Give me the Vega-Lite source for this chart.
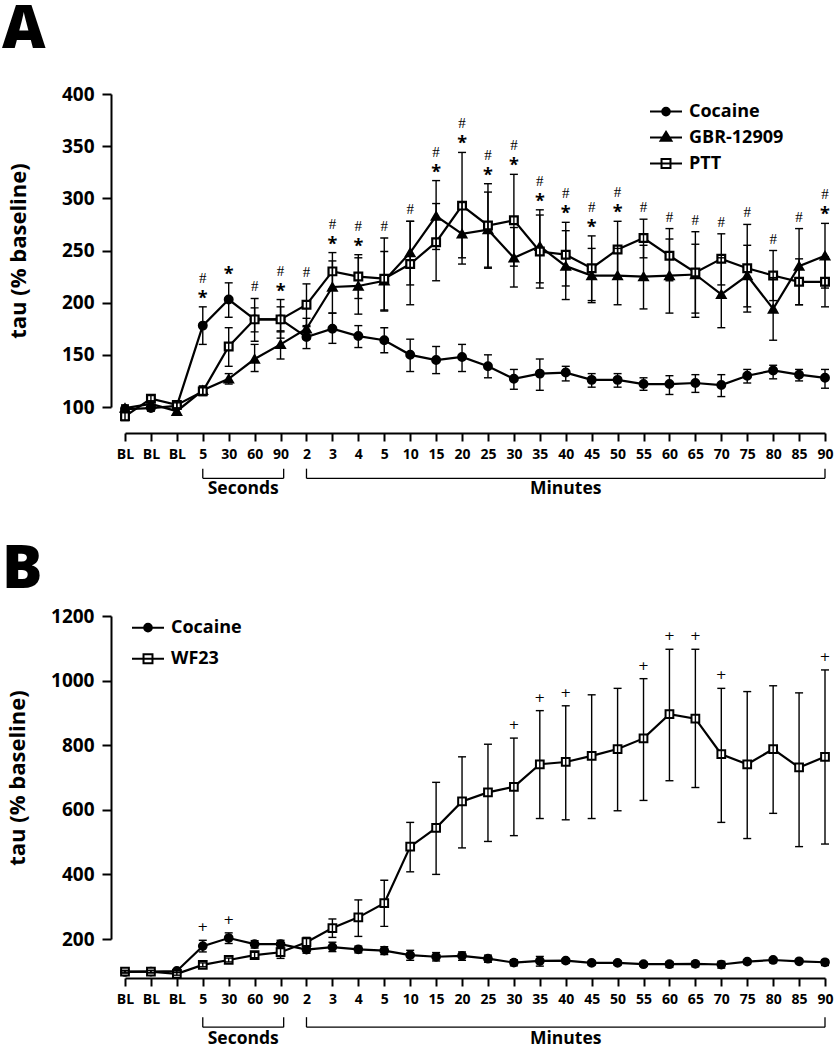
{
  "$schema": "https://vega.github.io/schema/vega-lite/v6.json",
  "background": "white",
  "padding": {"left": 2, "top": 0, "right": 0, "bottom": 0},
  "spacing": 42,
  "resolve": {"scale": {"shape": "independent", "fill": "independent", "stroke": "independent"}, "legend": {"shape": "independent", "fill": "independent", "stroke": "independent"}},
  "config": {
    "view": {"stroke": null},
    "font": "Open Sans",
    "axis": {"grid": false, "domainColor": "#000", "domainWidth": 2, "tickColor": "#000", "tickWidth": 2, "labelColor": "#000", "labelFont": "Open Sans", "labelFontWeight": "bold", "titleColor": "#000", "titleFont": "Open Sans", "titleFontWeight": "bold", "labelOverlap": false, "labelFlush": false},
    "legend": {"title": null, "orient": "none", "padding": 0, "symbolSize": 1024, "symbolOpacity": 1, "symbolStrokeWidth": 2, "labelFont": "Open Sans", "labelFontWeight": "bold", "labelFontSize": 18, "labelColor": "#000", "labelOffset": 6},
    "title": {"color": "#000", "font": "Open Sans", "fontWeight": 800, "fontSize": 60, "anchor": "start", "frame": "group", "dx": -123}
  },
  "datasets": {
    "tau": [
      {"series": "Cocaine", "i": 1, "mean": 98, "lo": 95, "hi": 101},
      {"series": "Cocaine", "i": 2, "mean": 99, "lo": 96, "hi": 102},
      {"series": "Cocaine", "i": 3, "mean": 101, "lo": 98, "hi": 104},
      {"series": "Cocaine", "i": 4, "mean": 178, "lo": 160, "hi": 196},
      {"series": "Cocaine", "i": 5, "mean": 203, "lo": 186, "hi": 219},
      {"series": "Cocaine", "i": 6, "mean": 184, "lo": 172, "hi": 195},
      {"series": "Cocaine", "i": 7, "mean": 184, "lo": 172, "hi": 196},
      {"series": "Cocaine", "i": 8, "mean": 167, "lo": 156, "hi": 178},
      {"series": "Cocaine", "i": 9, "mean": 175, "lo": 161, "hi": 190},
      {"series": "Cocaine", "i": 10, "mean": 168, "lo": 157, "hi": 178},
      {"series": "Cocaine", "i": 11, "mean": 164, "lo": 152, "hi": 176},
      {"series": "Cocaine", "i": 12, "mean": 150, "lo": 134, "hi": 165},
      {"series": "Cocaine", "i": 13, "mean": 145, "lo": 132, "hi": 158},
      {"series": "Cocaine", "i": 14, "mean": 148, "lo": 134, "hi": 160},
      {"series": "Cocaine", "i": 15, "mean": 139, "lo": 128, "hi": 150},
      {"series": "Cocaine", "i": 16, "mean": 127, "lo": 117, "hi": 136},
      {"series": "Cocaine", "i": 17, "mean": 132, "lo": 116, "hi": 146},
      {"series": "Cocaine", "i": 18, "mean": 133, "lo": 125, "hi": 139},
      {"series": "Cocaine", "i": 19, "mean": 126, "lo": 119, "hi": 132},
      {"series": "Cocaine", "i": 20, "mean": 126, "lo": 119, "hi": 132},
      {"series": "Cocaine", "i": 21, "mean": 122, "lo": 116, "hi": 128},
      {"series": "Cocaine", "i": 22, "mean": 122, "lo": 112, "hi": 130},
      {"series": "Cocaine", "i": 23, "mean": 123, "lo": 114, "hi": 131},
      {"series": "Cocaine", "i": 24, "mean": 121, "lo": 110, "hi": 131},
      {"series": "Cocaine", "i": 25, "mean": 130, "lo": 123, "hi": 136},
      {"series": "Cocaine", "i": 26, "mean": 135, "lo": 127, "hi": 140},
      {"series": "Cocaine", "i": 27, "mean": 131, "lo": 125, "hi": 136},
      {"series": "Cocaine", "i": 28, "mean": 128, "lo": 118, "hi": 136},
      {"series": "GBR-12909", "i": 1, "mean": 99, "lo": 96, "hi": 102},
      {"series": "GBR-12909", "i": 2, "mean": 103, "lo": 100, "hi": 106},
      {"series": "GBR-12909", "i": 3, "mean": 96, "lo": 93, "hi": 99},
      {"series": "GBR-12909", "i": 4, "mean": 116, "lo": 112, "hi": 120},
      {"series": "GBR-12909", "i": 5, "mean": 127, "lo": 122, "hi": 132},
      {"series": "GBR-12909", "i": 6, "mean": 146, "lo": 134, "hi": 160},
      {"series": "GBR-12909", "i": 7, "mean": 160, "lo": 146, "hi": 173},
      {"series": "GBR-12909", "i": 8, "mean": 175, "lo": 165, "hi": 185},
      {"series": "GBR-12909", "i": 9, "mean": 215, "lo": 190, "hi": 240},
      {"series": "GBR-12909", "i": 10, "mean": 216, "lo": 189, "hi": 243},
      {"series": "GBR-12909", "i": 11, "mean": 221, "lo": 193, "hi": 249},
      {"series": "GBR-12909", "i": 12, "mean": 248, "lo": 217, "hi": 278},
      {"series": "GBR-12909", "i": 13, "mean": 283, "lo": 251, "hi": 317},
      {"series": "GBR-12909", "i": 14, "mean": 266, "lo": 237, "hi": 296},
      {"series": "GBR-12909", "i": 15, "mean": 270, "lo": 233, "hi": 306},
      {"series": "GBR-12909", "i": 16, "mean": 243, "lo": 215, "hi": 272},
      {"series": "GBR-12909", "i": 17, "mean": 254, "lo": 219, "hi": 289},
      {"series": "GBR-12909", "i": 18, "mean": 235, "lo": 203, "hi": 269},
      {"series": "GBR-12909", "i": 19, "mean": 226, "lo": 200, "hi": 252},
      {"series": "GBR-12909", "i": 20, "mean": 226, "lo": 198, "hi": 252},
      {"series": "GBR-12909", "i": 21, "mean": 225, "lo": 194, "hi": 255},
      {"series": "GBR-12909", "i": 22, "mean": 226, "lo": 190, "hi": 261},
      {"series": "GBR-12909", "i": 23, "mean": 227, "lo": 186, "hi": 256},
      {"series": "GBR-12909", "i": 24, "mean": 208, "lo": 176, "hi": 243},
      {"series": "GBR-12909", "i": 25, "mean": 226, "lo": 196, "hi": 255},
      {"series": "GBR-12909", "i": 26, "mean": 194, "lo": 164, "hi": 224},
      {"series": "GBR-12909", "i": 27, "mean": 235, "lo": 198, "hi": 271},
      {"series": "GBR-12909", "i": 28, "mean": 245, "lo": 214, "hi": 276},
      {"series": "PTT", "i": 1, "mean": 91, "lo": 87, "hi": 95},
      {"series": "PTT", "i": 2, "mean": 108, "lo": 105, "hi": 111},
      {"series": "PTT", "i": 3, "mean": 102, "lo": 99, "hi": 105},
      {"series": "PTT", "i": 4, "mean": 115, "lo": 111, "hi": 120},
      {"series": "PTT", "i": 5, "mean": 158, "lo": 139, "hi": 176},
      {"series": "PTT", "i": 6, "mean": 184, "lo": 163, "hi": 204},
      {"series": "PTT", "i": 7, "mean": 184, "lo": 166, "hi": 203},
      {"series": "PTT", "i": 8, "mean": 198, "lo": 177, "hi": 218},
      {"series": "PTT", "i": 9, "mean": 230, "lo": 213, "hi": 248},
      {"series": "PTT", "i": 10, "mean": 225, "lo": 204, "hi": 246},
      {"series": "PTT", "i": 11, "mean": 223, "lo": 192, "hi": 262},
      {"series": "PTT", "i": 12, "mean": 237, "lo": 198, "hi": 278},
      {"series": "PTT", "i": 13, "mean": 258, "lo": 221, "hi": 295},
      {"series": "PTT", "i": 14, "mean": 293, "lo": 243, "hi": 344},
      {"series": "PTT", "i": 15, "mean": 274, "lo": 234, "hi": 314},
      {"series": "PTT", "i": 16, "mean": 279, "lo": 235, "hi": 323},
      {"series": "PTT", "i": 17, "mean": 249, "lo": 214, "hi": 284},
      {"series": "PTT", "i": 18, "mean": 246, "lo": 216, "hi": 277},
      {"series": "PTT", "i": 19, "mean": 233, "lo": 202, "hi": 264},
      {"series": "PTT", "i": 20, "mean": 251, "lo": 223, "hi": 278},
      {"series": "PTT", "i": 21, "mean": 262, "lo": 243, "hi": 280},
      {"series": "PTT", "i": 22, "mean": 245, "lo": 221, "hi": 271},
      {"series": "PTT", "i": 23, "mean": 229, "lo": 190, "hi": 268},
      {"series": "PTT", "i": 24, "mean": 242, "lo": 217, "hi": 266},
      {"series": "PTT", "i": 25, "mean": 233, "lo": 191, "hi": 275},
      {"series": "PTT", "i": 26, "mean": 226, "lo": 202, "hi": 250},
      {"series": "PTT", "i": 27, "mean": 220, "lo": 198, "hi": 242},
      {"series": "PTT", "i": 28, "mean": 220, "lo": 196, "hi": 244},
      {"series": "WF23", "i": 1, "mean": 99, "lo": 95, "hi": 103},
      {"series": "WF23", "i": 2, "mean": 99, "lo": 95, "hi": 103},
      {"series": "WF23", "i": 3, "mean": 92, "lo": 88, "hi": 96},
      {"series": "WF23", "i": 4, "mean": 120, "lo": 114, "hi": 126},
      {"series": "WF23", "i": 5, "mean": 135, "lo": 129, "hi": 141},
      {"series": "WF23", "i": 6, "mean": 150, "lo": 142, "hi": 159},
      {"series": "WF23", "i": 7, "mean": 159, "lo": 140, "hi": 174},
      {"series": "WF23", "i": 8, "mean": 190, "lo": 174, "hi": 205},
      {"series": "WF23", "i": 9, "mean": 234, "lo": 205, "hi": 262},
      {"series": "WF23", "i": 10, "mean": 267, "lo": 208, "hi": 321},
      {"series": "WF23", "i": 11, "mean": 311, "lo": 239, "hi": 382},
      {"series": "WF23", "i": 12, "mean": 486, "lo": 408, "hi": 561},
      {"series": "WF23", "i": 13, "mean": 544, "lo": 400, "hi": 685},
      {"series": "WF23", "i": 14, "mean": 626, "lo": 482, "hi": 764},
      {"series": "WF23", "i": 15, "mean": 654, "lo": 502, "hi": 803},
      {"series": "WF23", "i": 16, "mean": 671, "lo": 520, "hi": 822},
      {"series": "WF23", "i": 17, "mean": 741, "lo": 573, "hi": 907},
      {"series": "WF23", "i": 18, "mean": 748, "lo": 569, "hi": 922},
      {"series": "WF23", "i": 19, "mean": 767, "lo": 573, "hi": 956},
      {"series": "WF23", "i": 20, "mean": 788, "lo": 597, "hi": 976},
      {"series": "WF23", "i": 21, "mean": 821, "lo": 629, "hi": 1006},
      {"series": "WF23", "i": 22, "mean": 896, "lo": 690, "hi": 1097},
      {"series": "WF23", "i": 23, "mean": 882, "lo": 669, "hi": 1097},
      {"series": "WF23", "i": 24, "mean": 772, "lo": 561, "hi": 976},
      {"series": "WF23", "i": 25, "mean": 741, "lo": 511, "hi": 966},
      {"series": "WF23", "i": 26, "mean": 788, "lo": 589, "hi": 984},
      {"series": "WF23", "i": 27, "mean": 731, "lo": 486, "hi": 962},
      {"series": "WF23", "i": 28, "mean": 764, "lo": 494, "hi": 1033}
    ],
    "sigA": [
      {"i": 4, "star": true, "hash": true},
      {"i": 5, "star": true, "hash": false},
      {"i": 6, "star": false, "hash": true},
      {"i": 7, "star": true, "hash": true},
      {"i": 8, "star": false, "hash": true},
      {"i": 9, "star": true, "hash": true},
      {"i": 10, "star": true, "hash": true},
      {"i": 11, "star": false, "hash": true},
      {"i": 12, "star": false, "hash": true},
      {"i": 13, "star": true, "hash": true},
      {"i": 14, "star": true, "hash": true},
      {"i": 15, "star": true, "hash": true},
      {"i": 16, "star": true, "hash": true},
      {"i": 17, "star": true, "hash": true},
      {"i": 18, "star": true, "hash": true},
      {"i": 19, "star": true, "hash": true},
      {"i": 20, "star": true, "hash": true},
      {"i": 21, "star": false, "hash": true},
      {"i": 22, "star": false, "hash": true},
      {"i": 23, "star": false, "hash": true},
      {"i": 24, "star": false, "hash": true},
      {"i": 25, "star": false, "hash": true},
      {"i": 26, "star": false, "hash": true},
      {"i": 27, "star": false, "hash": true},
      {"i": 28, "star": true, "hash": true}
    ],
    "sigB": [
      {"i": 4, "plus": true}, {"i": 5, "plus": true}, {"i": 16, "plus": true}, {"i": 17, "plus": true},
      {"i": 18, "plus": true}, {"i": 21, "plus": true}, {"i": 22, "plus": true}, {"i": 23, "plus": true},
      {"i": 24, "plus": true}, {"i": 28, "plus": true}
    ],
    "brackets": [
      {"label": "Seconds", "x": 4}, {"label": "Seconds", "x": 7.12},
      {"label": "Minutes", "x": 8}, {"label": "Minutes", "x": 28}
    ]
  },
  "vconcat": [
    {
      "width": 700,
      "height": 313,
      "title": {"text": "A", "offset": 24},
      "layer": [
        {
          "data": {"name": "tau"},
          "transform": [{"filter": "datum.series !== 'WF23'"}],
          "mark": {"type": "line", "color": "#000", "strokeWidth": 2.2},
          "encoding": {
            "x": {"field": "i", "type": "quantitative", "scale": {"domain": [1, 28], "nice": false, "zero": false},
              "axis": {"title": null, "values": [1,2,3,4,5,6,7,8,9,10,11,12,13,14,15,16,17,18,19,20,21,22,23,24,25,26,27,28], "offset": 26, "tickSize": 8, "labelPadding": 6, "labelFontSize": 14, "labelOverlap": false, "labelFlush": false, "labelExpr": "['BL','BL','BL','5','30','60','90','2','3','4','5','10','15','20','25','30','35','40','45','50','55','60','65','70','75','80','85','90'][datum.value-1]"}},
            "y": {"field": "mean", "type": "quantitative", "scale": {"domain": [100, 400], "nice": false, "zero": false},
              "axis": {"title": "tau (% baseline)", "values": [100,150,200,250,300,350,400], "offset": 14, "tickSize": 9, "labelPadding": 8, "labelFontSize": 19, "titleFontSize": 22, "titlePadding": 31, "format": "d"}},
            "detail": {"field": "series"}
          }
        },
        {
          "data": {"name": "tau"},
          "transform": [{"filter": "datum.series !== 'WF23'"}],
          "mark": {"type": "point", "filled": true, "opacity": 0, "strokeWidth": 2},
          "encoding": {
            "x": {"field": "i", "type": "quantitative",
              "axis": {"title": null, "values": [1,2,3,4,5,6,7,8,9,10,11,12,13,14,15,16,17,18,19,20,21,22,23,24,25,26,27,28], "offset": 26, "tickSize": 8, "labelPadding": 6, "labelFontSize": 14, "labelOverlap": false, "labelFlush": false, "labelExpr": "['BL','BL','BL','5','30','60','90','2','3','4','5','10','15','20','25','30','35','40','45','50','55','60','65','70','75','80','85','90'][datum.value-1]"}},
            "y": {"field": "mean", "type": "quantitative",
              "axis": {"title": "tau (% baseline)", "values": [100,150,200,250,300,350,400], "offset": 14, "tickSize": 9, "labelPadding": 8, "labelFontSize": 19, "titleFontSize": 22, "titlePadding": 31, "format": "d"}},
            "shape": {"field": "series", "type": "nominal",
              "scale": {"domain": ["Cocaine", "GBR-12909", "PTT"], "range": ["M-1,0H1M0.24,0A0.24,0.24,0,1,1,-0.24,0A0.24,0.24,0,1,1,0.24,0Z", "M-1,0H1M0,-0.36L0.34,0.2L-0.34,0.2Z", "M-1,0H1M-0.28,-0.28H0.28V0.28H-0.28Z"]},
              "legend": {"orient": "none", "legendX": 524, "legendY": 0.6, "rowPadding": -2.7, "symbolStrokeWidth": 2}},
            "fill": {"field": "series", "type": "nominal",
              "scale": {"domain": ["Cocaine", "GBR-12909", "PTT"], "range": ["#000", "#000", "#fff"]},
              "legend": {"orient": "none", "legendX": 524, "legendY": 0.6, "rowPadding": -2.7, "symbolStrokeWidth": 2}},
            "stroke": {"field": "series", "type": "nominal",
              "scale": {"domain": ["Cocaine", "GBR-12909", "PTT"], "range": ["#000", "#000", "#000"]},
              "legend": {"orient": "none", "legendX": 524, "legendY": 0.6, "rowPadding": -2.7, "symbolStrokeWidth": 2}}
          }
        },
        {
          "data": {"name": "tau"},
          "transform": [{"filter": "datum.series !== 'WF23'"}],
          "mark": {"type": "point", "filled": true, "stroke": "#000", "strokeWidth": 2.2, "opacity": 1},
          "encoding": {
            "x": {"field": "i", "type": "quantitative",
              "axis": {"title": null, "values": [1,2,3,4,5,6,7,8,9,10,11,12,13,14,15,16,17,18,19,20,21,22,23,24,25,26,27,28], "offset": 26, "tickSize": 8, "labelPadding": 6, "labelFontSize": 14, "labelOverlap": false, "labelFlush": false, "labelExpr": "['BL','BL','BL','5','30','60','90','2','3','4','5','10','15','20','25','30','35','40','45','50','55','60','65','70','75','80','85','90'][datum.value-1]"}},
            "y": {"field": "mean", "type": "quantitative",
              "axis": {"title": "tau (% baseline)", "values": [100,150,200,250,300,350,400], "offset": 14, "tickSize": 9, "labelPadding": 8, "labelFontSize": 19, "titleFontSize": 22, "titlePadding": 31, "format": "d"}},
            "fill": {"condition": {"test": "datum.series === 'PTT'", "value": "#fff"}, "value": "#000"},
            "size": {"condition": {"test": "datum.series === 'GBR-12909'", "value": 70}, "value": 60},
            "shape": {"condition": [{"test": "datum.series === 'Cocaine'", "value": "circle"}, {"test": "datum.series === 'GBR-12909'", "value": "triangle-up"}], "value": "square"}
          }
        },
        {
          "data": {"name": "tau"},
          "transform": [{"filter": "datum.series !== 'WF23'"}],
          "mark": {"type": "rule", "color": "#000", "strokeWidth": 1.4},
          "encoding": {
            "x": {"field": "i", "type": "quantitative",
              "axis": {"title": null, "values": [1,2,3,4,5,6,7,8,9,10,11,12,13,14,15,16,17,18,19,20,21,22,23,24,25,26,27,28], "offset": 26, "tickSize": 8, "labelPadding": 6, "labelFontSize": 14, "labelOverlap": false, "labelFlush": false, "labelExpr": "['BL','BL','BL','5','30','60','90','2','3','4','5','10','15','20','25','30','35','40','45','50','55','60','65','70','75','80','85','90'][datum.value-1]"}},
            "y": {"field": "lo", "type": "quantitative",
              "axis": {"title": "tau (% baseline)", "values": [100,150,200,250,300,350,400], "offset": 14, "tickSize": 9, "labelPadding": 8, "labelFontSize": 19, "titleFontSize": 22, "titlePadding": 31, "format": "d"}},
            "y2": {"field": "hi"}
          }
        },
        {
          "data": {"name": "tau"},
          "transform": [{"filter": "datum.series !== 'WF23'"}],
          "mark": {"type": "tick", "orient": "horizontal", "color": "#000", "size": 8, "thickness": 1.4, "opacity": 1},
          "encoding": {
            "x": {"field": "i", "type": "quantitative",
              "axis": {"title": null, "values": [1,2,3,4,5,6,7,8,9,10,11,12,13,14,15,16,17,18,19,20,21,22,23,24,25,26,27,28], "offset": 26, "tickSize": 8, "labelPadding": 6, "labelFontSize": 14, "labelOverlap": false, "labelFlush": false, "labelExpr": "['BL','BL','BL','5','30','60','90','2','3','4','5','10','15','20','25','30','35','40','45','50','55','60','65','70','75','80','85','90'][datum.value-1]"}},
            "y": {"field": "lo", "type": "quantitative",
              "axis": {"title": "tau (% baseline)", "values": [100,150,200,250,300,350,400], "offset": 14, "tickSize": 9, "labelPadding": 8, "labelFontSize": 19, "titleFontSize": 22, "titlePadding": 31, "format": "d"}}
          }
        },
        {
          "data": {"name": "tau"},
          "transform": [{"filter": "datum.series !== 'WF23'"}],
          "mark": {"type": "tick", "orient": "horizontal", "color": "#000", "size": 8, "thickness": 1.4, "opacity": 1},
          "encoding": {
            "x": {"field": "i", "type": "quantitative",
              "axis": {"title": null, "values": [1,2,3,4,5,6,7,8,9,10,11,12,13,14,15,16,17,18,19,20,21,22,23,24,25,26,27,28], "offset": 26, "tickSize": 8, "labelPadding": 6, "labelFontSize": 14, "labelOverlap": false, "labelFlush": false, "labelExpr": "['BL','BL','BL','5','30','60','90','2','3','4','5','10','15','20','25','30','35','40','45','50','55','60','65','70','75','80','85','90'][datum.value-1]"}},
            "y": {"field": "hi", "type": "quantitative",
              "axis": {"title": "tau (% baseline)", "values": [100,150,200,250,300,350,400], "offset": 14, "tickSize": 9, "labelPadding": 8, "labelFontSize": 19, "titleFontSize": 22, "titlePadding": 31, "format": "d"}}
          }
        },
        {
          "data": {"name": "tau"},
          "transform": [
            {"filter": "datum.series !== 'WF23'"},
            {"aggregate": [{"op": "max", "field": "hi", "as": "top"}], "groupby": ["i"]},
            {"lookup": "i", "from": {"data": {"name": "sigA"}, "key": "i", "fields": ["star", "hash"]}},
            {"filter": "datum.star === true"}
          ],
          "mark": {"type": "text", "text": "*", "font": "Open Sans", "fontWeight": "bold", "fontSize": 18, "baseline": "middle", "dy": -8, "color": "#000"},
          "encoding": {
            "x": {"field": "i", "type": "quantitative",
              "axis": {"title": null, "values": [1,2,3,4,5,6,7,8,9,10,11,12,13,14,15,16,17,18,19,20,21,22,23,24,25,26,27,28], "offset": 26, "tickSize": 8, "labelPadding": 6, "labelFontSize": 14, "labelOverlap": false, "labelFlush": false, "labelExpr": "['BL','BL','BL','5','30','60','90','2','3','4','5','10','15','20','25','30','35','40','45','50','55','60','65','70','75','80','85','90'][datum.value-1]"}},
            "y": {"field": "top", "type": "quantitative",
              "axis": {"title": "tau (% baseline)", "values": [100,150,200,250,300,350,400], "offset": 14, "tickSize": 9, "labelPadding": 8, "labelFontSize": 19, "titleFontSize": 22, "titlePadding": 31, "format": "d"}}
          }
        },
        {
          "data": {"name": "tau"},
          "transform": [
            {"filter": "datum.series !== 'WF23'"},
            {"aggregate": [{"op": "max", "field": "hi", "as": "top"}], "groupby": ["i"]},
            {"lookup": "i", "from": {"data": {"name": "sigA"}, "key": "i", "fields": ["star", "hash"]}},
            {"filter": "datum.hash === true && datum.star === true"}
          ],
          "mark": {"type": "text", "text": "#", "font": "Liberation Serif", "fontSize": 15, "baseline": "middle", "dy": -29, "color": "#000"},
          "encoding": {
            "x": {"field": "i", "type": "quantitative",
              "axis": {"title": null, "values": [1,2,3,4,5,6,7,8,9,10,11,12,13,14,15,16,17,18,19,20,21,22,23,24,25,26,27,28], "offset": 26, "tickSize": 8, "labelPadding": 6, "labelFontSize": 14, "labelOverlap": false, "labelFlush": false, "labelExpr": "['BL','BL','BL','5','30','60','90','2','3','4','5','10','15','20','25','30','35','40','45','50','55','60','65','70','75','80','85','90'][datum.value-1]"}},
            "y": {"field": "top", "type": "quantitative",
              "axis": {"title": "tau (% baseline)", "values": [100,150,200,250,300,350,400], "offset": 14, "tickSize": 9, "labelPadding": 8, "labelFontSize": 19, "titleFontSize": 22, "titlePadding": 31, "format": "d"}}
          }
        },
        {
          "data": {"name": "tau"},
          "transform": [
            {"filter": "datum.series !== 'WF23'"},
            {"aggregate": [{"op": "max", "field": "hi", "as": "top"}], "groupby": ["i"]},
            {"lookup": "i", "from": {"data": {"name": "sigA"}, "key": "i", "fields": ["star", "hash"]}},
            {"filter": "datum.hash === true && datum.star === false"}
          ],
          "mark": {"type": "text", "text": "#", "font": "Liberation Serif", "fontSize": 15, "baseline": "middle", "dy": -12, "color": "#000"},
          "encoding": {
            "x": {"field": "i", "type": "quantitative",
              "axis": {"title": null, "values": [1,2,3,4,5,6,7,8,9,10,11,12,13,14,15,16,17,18,19,20,21,22,23,24,25,26,27,28], "offset": 26, "tickSize": 8, "labelPadding": 6, "labelFontSize": 14, "labelOverlap": false, "labelFlush": false, "labelExpr": "['BL','BL','BL','5','30','60','90','2','3','4','5','10','15','20','25','30','35','40','45','50','55','60','65','70','75','80','85','90'][datum.value-1]"}},
            "y": {"field": "top", "type": "quantitative",
              "axis": {"title": "tau (% baseline)", "values": [100,150,200,250,300,350,400], "offset": 14, "tickSize": 9, "labelPadding": 8, "labelFontSize": 19, "titleFontSize": 22, "titlePadding": 31, "format": "d"}}
          }
        },
        {
          "data": {"name": "brackets"},
          "mark": {"type": "rule", "color": "#000", "strokeWidth": 1.3},
          "encoding": {
            "x": {"aggregate": "min", "field": "x", "type": "quantitative",
              "axis": {"title": null, "values": [1,2,3,4,5,6,7,8,9,10,11,12,13,14,15,16,17,18,19,20,21,22,23,24,25,26,27,28], "offset": 26, "tickSize": 8, "labelPadding": 6, "labelFontSize": 14, "labelOverlap": false, "labelFlush": false, "labelExpr": "['BL','BL','BL','5','30','60','90','2','3','4','5','10','15','20','25','30','35','40','45','50','55','60','65','70','75','80','85','90'][datum.value-1]"}},
            "x2": {"aggregate": "max", "field": "x"},
            "y": {"datum": 31.6,
              "axis": {"title": "tau (% baseline)", "values": [100,150,200,250,300,350,400], "offset": 14, "tickSize": 9, "labelPadding": 8, "labelFontSize": 19, "titleFontSize": 22, "titlePadding": 31, "format": "d"}},
            "detail": {"field": "label"}
          }
        },
        {
          "data": {"name": "brackets"},
          "mark": {"type": "rule", "color": "#000", "strokeWidth": 1.3},
          "encoding": {
            "x": {"field": "x", "type": "quantitative",
              "axis": {"title": null, "values": [1,2,3,4,5,6,7,8,9,10,11,12,13,14,15,16,17,18,19,20,21,22,23,24,25,26,27,28], "offset": 26, "tickSize": 8, "labelPadding": 6, "labelFontSize": 14, "labelOverlap": false, "labelFlush": false, "labelExpr": "['BL','BL','BL','5','30','60','90','2','3','4','5','10','15','20','25','30','35','40','45','50','55','60','65','70','75','80','85','90'][datum.value-1]"}},
            "y": {"datum": 40.9,
              "axis": {"title": "tau (% baseline)", "values": [100,150,200,250,300,350,400], "offset": 14, "tickSize": 9, "labelPadding": 8, "labelFontSize": 19, "titleFontSize": 22, "titlePadding": 31, "format": "d"}},
            "y2": {"datum": 31.6}
          }
        },
        {
          "data": {"name": "brackets"},
          "mark": {"type": "text", "font": "Open Sans", "fontWeight": "bold", "fontSize": 17.5, "baseline": "alphabetic", "color": "#000"},
          "encoding": {
            "x": {"aggregate": "mean", "field": "x", "type": "quantitative",
              "axis": {"title": null, "values": [1,2,3,4,5,6,7,8,9,10,11,12,13,14,15,16,17,18,19,20,21,22,23,24,25,26,27,28], "offset": 26, "tickSize": 8, "labelPadding": 6, "labelFontSize": 14, "labelOverlap": false, "labelFlush": false, "labelExpr": "['BL','BL','BL','5','30','60','90','2','3','4','5','10','15','20','25','30','35','40','45','50','55','60','65','70','75','80','85','90'][datum.value-1]"}},
            "y": {"datum": 16.2,
              "axis": {"title": "tau (% baseline)", "values": [100,150,200,250,300,350,400], "offset": 14, "tickSize": 9, "labelPadding": 8, "labelFontSize": 19, "titleFontSize": 22, "titlePadding": 31, "format": "d"}},
            "text": {"field": "label"}
          }
        }
      ]
    },
    {
      "width": 700,
      "height": 323,
      "title": {"text": "B", "offset": 6},
      "layer": [
        {
          "data": {"name": "tau"},
          "transform": [{"filter": "datum.series === 'Cocaine' || datum.series === 'WF23'"}],
          "mark": {"type": "line", "color": "#000", "strokeWidth": 2.2},
          "encoding": {
            "x": {"field": "i", "type": "quantitative", "scale": {"domain": [1, 28], "nice": false, "zero": false},
              "axis": {"title": null, "values": [1,2,3,4,5,6,7,8,9,10,11,12,13,14,15,16,17,18,19,20,21,22,23,24,25,26,27,28], "offset": 39, "tickSize": 8, "labelPadding": 6, "labelFontSize": 14, "labelOverlap": false, "labelFlush": false, "labelExpr": "['BL','BL','BL','5','30','60','90','2','3','4','5','10','15','20','25','30','35','40','45','50','55','60','65','70','75','80','85','90'][datum.value-1]"}},
            "y": {"field": "mean", "type": "quantitative", "scale": {"domain": [200, 1200], "nice": false, "zero": false},
              "axis": {"title": "tau (% baseline)", "values": [200,400,600,800,1000,1200], "offset": 14, "tickSize": 9, "labelPadding": 8, "labelFontSize": 19, "titleFontSize": 22, "titlePadding": 21, "format": "d"}},
            "detail": {"field": "series"}
          }
        },
        {
          "data": {"name": "tau"},
          "transform": [{"filter": "datum.series === 'Cocaine' || datum.series === 'WF23'"}],
          "mark": {"type": "point", "filled": true, "opacity": 0, "strokeWidth": 2},
          "encoding": {
            "x": {"field": "i", "type": "quantitative",
              "axis": {"title": null, "values": [1,2,3,4,5,6,7,8,9,10,11,12,13,14,15,16,17,18,19,20,21,22,23,24,25,26,27,28], "offset": 39, "tickSize": 8, "labelPadding": 6, "labelFontSize": 14, "labelOverlap": false, "labelFlush": false, "labelExpr": "['BL','BL','BL','5','30','60','90','2','3','4','5','10','15','20','25','30','35','40','45','50','55','60','65','70','75','80','85','90'][datum.value-1]"}},
            "y": {"field": "mean", "type": "quantitative",
              "axis": {"title": "tau (% baseline)", "values": [200,400,600,800,1000,1200], "offset": 14, "tickSize": 9, "labelPadding": 8, "labelFontSize": 19, "titleFontSize": 22, "titlePadding": 21, "format": "d"}},
            "shape": {"field": "series", "type": "nominal",
              "scale": {"domain": ["Cocaine", "WF23"], "range": ["M-1,0H1M0.24,0A0.24,0.24,0,1,1,-0.24,0A0.24,0.24,0,1,1,0.24,0Z", "M-1,0H1M-0.28,-0.28H0.28V0.28H-0.28Z"]},
              "legend": {"orient": "none", "legendX": 6, "legendY": -5.3, "rowPadding": 5, "symbolStrokeWidth": 2}},
            "fill": {"field": "series", "type": "nominal",
              "scale": {"domain": ["Cocaine", "WF23"], "range": ["#000", "#fff"]},
              "legend": {"orient": "none", "legendX": 6, "legendY": -5.3, "rowPadding": 5, "symbolStrokeWidth": 2}},
            "stroke": {"field": "series", "type": "nominal",
              "scale": {"domain": ["Cocaine", "WF23"], "range": ["#000", "#000"]},
              "legend": {"orient": "none", "legendX": 6, "legendY": -5.3, "rowPadding": 5, "symbolStrokeWidth": 2}}
          }
        },
        {
          "data": {"name": "tau"},
          "transform": [{"filter": "datum.series === 'Cocaine' || datum.series === 'WF23'"}],
          "mark": {"type": "point", "filled": true, "stroke": "#000", "strokeWidth": 2, "opacity": 1},
          "encoding": {
            "x": {"field": "i", "type": "quantitative",
              "axis": {"title": null, "values": [1,2,3,4,5,6,7,8,9,10,11,12,13,14,15,16,17,18,19,20,21,22,23,24,25,26,27,28], "offset": 39, "tickSize": 8, "labelPadding": 6, "labelFontSize": 14, "labelOverlap": false, "labelFlush": false, "labelExpr": "['BL','BL','BL','5','30','60','90','2','3','4','5','10','15','20','25','30','35','40','45','50','55','60','65','70','75','80','85','90'][datum.value-1]"}},
            "y": {"field": "mean", "type": "quantitative",
              "axis": {"title": "tau (% baseline)", "values": [200,400,600,800,1000,1200], "offset": 14, "tickSize": 9, "labelPadding": 8, "labelFontSize": 19, "titleFontSize": 22, "titlePadding": 21, "format": "d"}},
            "fill": {"condition": {"test": "datum.series === 'WF23'", "value": "#fff"}, "value": "#000"},
            "size": {"value": 60},
            "shape": {"condition": {"test": "datum.series === 'Cocaine'", "value": "circle"}, "value": "square"}
          }
        },
        {
          "data": {"name": "tau"},
          "transform": [{"filter": "datum.series === 'Cocaine' || datum.series === 'WF23'"}],
          "mark": {"type": "rule", "color": "#000", "strokeWidth": 1.4},
          "encoding": {
            "x": {"field": "i", "type": "quantitative",
              "axis": {"title": null, "values": [1,2,3,4,5,6,7,8,9,10,11,12,13,14,15,16,17,18,19,20,21,22,23,24,25,26,27,28], "offset": 39, "tickSize": 8, "labelPadding": 6, "labelFontSize": 14, "labelOverlap": false, "labelFlush": false, "labelExpr": "['BL','BL','BL','5','30','60','90','2','3','4','5','10','15','20','25','30','35','40','45','50','55','60','65','70','75','80','85','90'][datum.value-1]"}},
            "y": {"field": "lo", "type": "quantitative",
              "axis": {"title": "tau (% baseline)", "values": [200,400,600,800,1000,1200], "offset": 14, "tickSize": 9, "labelPadding": 8, "labelFontSize": 19, "titleFontSize": 22, "titlePadding": 21, "format": "d"}},
            "y2": {"field": "hi"}
          }
        },
        {
          "data": {"name": "tau"},
          "transform": [{"filter": "datum.series === 'Cocaine' || datum.series === 'WF23'"}],
          "mark": {"type": "tick", "orient": "horizontal", "color": "#000", "size": 8, "thickness": 1.4, "opacity": 1},
          "encoding": {
            "x": {"field": "i", "type": "quantitative",
              "axis": {"title": null, "values": [1,2,3,4,5,6,7,8,9,10,11,12,13,14,15,16,17,18,19,20,21,22,23,24,25,26,27,28], "offset": 39, "tickSize": 8, "labelPadding": 6, "labelFontSize": 14, "labelOverlap": false, "labelFlush": false, "labelExpr": "['BL','BL','BL','5','30','60','90','2','3','4','5','10','15','20','25','30','35','40','45','50','55','60','65','70','75','80','85','90'][datum.value-1]"}},
            "y": {"field": "lo", "type": "quantitative",
              "axis": {"title": "tau (% baseline)", "values": [200,400,600,800,1000,1200], "offset": 14, "tickSize": 9, "labelPadding": 8, "labelFontSize": 19, "titleFontSize": 22, "titlePadding": 21, "format": "d"}}
          }
        },
        {
          "data": {"name": "tau"},
          "transform": [{"filter": "datum.series === 'Cocaine' || datum.series === 'WF23'"}],
          "mark": {"type": "tick", "orient": "horizontal", "color": "#000", "size": 8, "thickness": 1.4, "opacity": 1},
          "encoding": {
            "x": {"field": "i", "type": "quantitative",
              "axis": {"title": null, "values": [1,2,3,4,5,6,7,8,9,10,11,12,13,14,15,16,17,18,19,20,21,22,23,24,25,26,27,28], "offset": 39, "tickSize": 8, "labelPadding": 6, "labelFontSize": 14, "labelOverlap": false, "labelFlush": false, "labelExpr": "['BL','BL','BL','5','30','60','90','2','3','4','5','10','15','20','25','30','35','40','45','50','55','60','65','70','75','80','85','90'][datum.value-1]"}},
            "y": {"field": "hi", "type": "quantitative",
              "axis": {"title": "tau (% baseline)", "values": [200,400,600,800,1000,1200], "offset": 14, "tickSize": 9, "labelPadding": 8, "labelFontSize": 19, "titleFontSize": 22, "titlePadding": 21, "format": "d"}}
          }
        },
        {
          "data": {"name": "tau"},
          "transform": [
            {"filter": "datum.series === 'Cocaine' || datum.series === 'WF23'"},
            {"aggregate": [{"op": "max", "field": "hi", "as": "top"}], "groupby": ["i"]},
            {"lookup": "i", "from": {"data": {"name": "sigB"}, "key": "i", "fields": ["plus"]}},
            {"filter": "datum.plus === true"}
          ],
          "mark": {"type": "text", "text": "+", "font": "DejaVu Sans", "fontSize": 13, "baseline": "middle", "dy": -13, "color": "#000"},
          "encoding": {
            "x": {"field": "i", "type": "quantitative",
              "axis": {"title": null, "values": [1,2,3,4,5,6,7,8,9,10,11,12,13,14,15,16,17,18,19,20,21,22,23,24,25,26,27,28], "offset": 39, "tickSize": 8, "labelPadding": 6, "labelFontSize": 14, "labelOverlap": false, "labelFlush": false, "labelExpr": "['BL','BL','BL','5','30','60','90','2','3','4','5','10','15','20','25','30','35','40','45','50','55','60','65','70','75','80','85','90'][datum.value-1]"}},
            "y": {"field": "top", "type": "quantitative",
              "axis": {"title": "tau (% baseline)", "values": [200,400,600,800,1000,1200], "offset": 14, "tickSize": 9, "labelPadding": 8, "labelFontSize": 19, "titleFontSize": 22, "titlePadding": 21, "format": "d"}}
          }
        },
        {
          "data": {"name": "brackets"},
          "mark": {"type": "rule", "color": "#000", "strokeWidth": 1.3},
          "encoding": {
            "x": {"aggregate": "min", "field": "x", "type": "quantitative",
              "axis": {"title": null, "values": [1,2,3,4,5,6,7,8,9,10,11,12,13,14,15,16,17,18,19,20,21,22,23,24,25,26,27,28], "offset": 39, "tickSize": 8, "labelPadding": 6, "labelFontSize": 14, "labelOverlap": false, "labelFlush": false, "labelExpr": "['BL','BL','BL','5','30','60','90','2','3','4','5','10','15','20','25','30','35','40','45','50','55','60','65','70','75','80','85','90'][datum.value-1]"}},
            "x2": {"aggregate": "max", "field": "x"},
            "y": {"datum": -73,
              "axis": {"title": "tau (% baseline)", "values": [200,400,600,800,1000,1200], "offset": 14, "tickSize": 9, "labelPadding": 8, "labelFontSize": 19, "titleFontSize": 22, "titlePadding": 21, "format": "d"}},
            "detail": {"field": "label"}
          }
        },
        {
          "data": {"name": "brackets"},
          "mark": {"type": "rule", "color": "#000", "strokeWidth": 1.3},
          "encoding": {
            "x": {"field": "x", "type": "quantitative",
              "axis": {"title": null, "values": [1,2,3,4,5,6,7,8,9,10,11,12,13,14,15,16,17,18,19,20,21,22,23,24,25,26,27,28], "offset": 39, "tickSize": 8, "labelPadding": 6, "labelFontSize": 14, "labelOverlap": false, "labelFlush": false, "labelExpr": "['BL','BL','BL','5','30','60','90','2','3','4','5','10','15','20','25','30','35','40','45','50','55','60','65','70','75','80','85','90'][datum.value-1]"}},
            "y": {"datum": -42,
              "axis": {"title": "tau (% baseline)", "values": [200,400,600,800,1000,1200], "offset": 14, "tickSize": 9, "labelPadding": 8, "labelFontSize": 19, "titleFontSize": 22, "titlePadding": 21, "format": "d"}},
            "y2": {"datum": -73}
          }
        },
        {
          "data": {"name": "brackets"},
          "mark": {"type": "text", "font": "Open Sans", "fontWeight": "bold", "fontSize": 17.5, "baseline": "alphabetic", "color": "#000"},
          "encoding": {
            "x": {"aggregate": "mean", "field": "x", "type": "quantitative",
              "axis": {"title": null, "values": [1,2,3,4,5,6,7,8,9,10,11,12,13,14,15,16,17,18,19,20,21,22,23,24,25,26,27,28], "offset": 39, "tickSize": 8, "labelPadding": 6, "labelFontSize": 14, "labelOverlap": false, "labelFlush": false, "labelExpr": "['BL','BL','BL','5','30','60','90','2','3','4','5','10','15','20','25','30','35','40','45','50','55','60','65','70','75','80','85','90'][datum.value-1]"}},
            "y": {"datum": -125,
              "axis": {"title": "tau (% baseline)", "values": [200,400,600,800,1000,1200], "offset": 14, "tickSize": 9, "labelPadding": 8, "labelFontSize": 19, "titleFontSize": 22, "titlePadding": 21, "format": "d"}},
            "text": {"field": "label"}
          }
        }
      ]
    }
  ]
}
